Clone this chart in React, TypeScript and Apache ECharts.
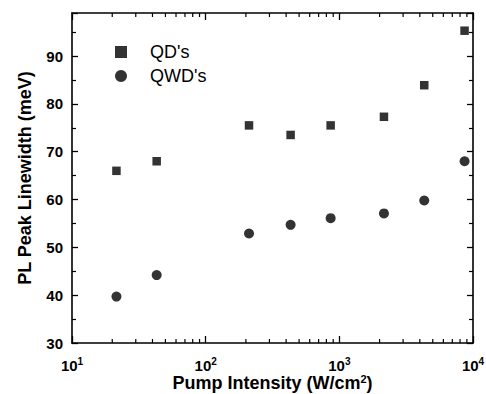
import React, { useEffect, useRef } from "react";
import * as echarts from "echarts";

const pumpIntensity = [21.5, 43, 211, 432, 861, 2157, 4318, 8650];
const qdLinewidth = [66.0, 68.0, 75.5, 73.5, 75.5, 77.3, 83.9, 95.3];
const qwdLinewidth = [39.7, 44.2, 52.9, 54.7, 56.1, 57.1, 59.8, 68.0];
const seriesNames = ["QD's", "QWD's"];
const xMin = 10;
const xMax = 10000;
const yMin = 30;
const yMax = 99;
const minorMultipliers = [2, 3, 4, 5, 6, 7, 8, 9];
const decades = [10, 100, 1000];

const FONT = "'Liberation Sans', Arial, Helvetica, sans-serif";

export default function App() {
  const ref = useRef<HTMLDivElement>(null);
  useEffect(() => {
    if (!ref.current) return;
    const chart = echarts.init(ref.current, null, { renderer: "svg" });
    const minorTickValues: number[] = [];
    decades.forEach((d) => minorMultipliers.forEach((m) => minorTickValues.push(m * d)));

    const axisLineStyle = { color: "#000", width: 1.6 };
    const option: any = {
      animation: false,
      backgroundColor: "#fff",
      textStyle: { fontFamily: FONT },
      grid: { left: 72, right: 13, top: 13, bottom: 51, containLabel: false, outerBoundsMode: "none" },
      legend: {
        data: [
          { name: seriesNames[0], icon: "rect" },
          { name: seriesNames[1], icon: "circle" },
        ],
        orient: "vertical",
        left: 110,
        top: 38,
        itemWidth: 12,
        itemHeight: 12,
        itemGap: 6,
        selectedMode: false,
        textStyle: { fontFamily: FONT, fontSize: 18, color: "#000", padding: [0, 0, 0, 18] },
      },
      xAxis: [
        {
          type: "log",
          logBase: 10,
          min: xMin,
          max: xMax,
          position: "bottom",
          name: "{a|Pump Intensity (W/cm}{s|2}{a|)}",
          nameLocation: "middle",
          nameGap: 30,
          nameMoveOverlap: false,
          nameTextStyle: {
            rich: {
              a: { fontFamily: FONT, fontSize: 18, fontWeight: "bold", color: "#000" },
              s: { fontFamily: FONT, fontSize: 11, fontWeight: "bold", color: "#000", padding: [0, 0, 9, 0] },
            },
          },
          axisLine: { show: true, onZero: false, lineStyle: axisLineStyle },
          axisTick: { show: true, inside: true, length: 7, lineStyle: { color: "#000", width: 1.3 } },
          splitLine: { show: false },
          axisLabel: {
            margin: 13,
            formatter: (v: number) => "{b|10}{s|" + Math.round(Math.log10(v)) + "}",
            rich: {
              b: { fontFamily: FONT, fontSize: 15, fontWeight: "bold", color: "#000" },
              s: { fontFamily: FONT, fontSize: 10, fontWeight: "bold", color: "#000", padding: [0, 0, 8, 0] },
            },
          },
        },
        {
          type: "log",
          logBase: 10,
          min: xMin,
          max: xMax,
          position: "top",
          axisLine: { show: true, onZero: false, lineStyle: axisLineStyle },
          axisTick: { show: true, inside: true, length: 7, lineStyle: { color: "#000", width: 1.3 } },
          axisLabel: { show: false },
          splitLine: { show: false },
        },
      ],
      yAxis: [
        {
          type: "value",
          min: yMin,
          max: yMax,
          interval: 10,
          position: "left",
          name: "PL Peak Linewidth (meV)",
          nameLocation: "middle",
          nameGap: 38,
          nameMoveOverlap: false,
          nameTextStyle: { fontFamily: FONT, fontSize: 18, fontWeight: "bold", color: "#000" },
          axisLine: { show: true, onZero: false, lineStyle: axisLineStyle },
          axisTick: { show: true, inside: true, length: 6, lineStyle: { color: "#000", width: 1.3 } },
          minorTick: { show: true, splitNumber: 2, length: 4, lineStyle: { color: "#000", width: 1.2 } },
          splitLine: { show: false },
          axisLabel: {
            margin: 9,
            showMaxLabel: false,
            fontFamily: FONT,
            fontSize: 15,
            fontWeight: "bold",
            color: "#000",
          },
        },
        {
          type: "value",
          min: yMin,
          max: yMax,
          interval: 10,
          position: "right",
          axisLine: { show: true, onZero: false, lineStyle: axisLineStyle },
          axisTick: { show: true, inside: true, length: 6, lineStyle: { color: "#000", width: 1.3 } },
          minorTick: { show: true, splitNumber: 2, length: 4, lineStyle: { color: "#000", width: 1.2 } },
          splitLine: { show: false },
          axisLabel: { show: false },
        },
      ],
      series: [
        {
          name: seriesNames[0],
          type: "scatter",
          symbol: "rect",
          symbolSize: 8.5,
          itemStyle: { color: "#000" },
          data: pumpIntensity.map((x, i) => [x, qdLinewidth[i]]),
        },
        {
          name: seriesNames[1],
          type: "scatter",
          symbol: "circle",
          symbolSize: 10,
          itemStyle: { color: "#000" },
          data: pumpIntensity.map((x, i) => [x, qwdLinewidth[i]]),
        },
        {
          name: "minorTicks",
          type: "custom",
          silent: true,
          data: minorTickValues.map((v) => [v]),
          renderItem: (params: any, api: any) => {
            const v = api.value(0);
            const b = api.coord([v, yMin]);
            const t = api.coord([v, yMax]);
            const len = 4;
            const st = { stroke: "#000", lineWidth: 1.2 };
            return {
              type: "group",
              children: [
                { type: "line", shape: { x1: b[0], y1: b[1], x2: b[0], y2: b[1] - len }, style: st },
                { type: "line", shape: { x1: t[0], y1: t[1], x2: t[0], y2: t[1] + len }, style: st },
              ],
            };
          },
        },
      ],
    };
    chart.setOption(option);
    return () => chart.dispose();
  }, []);
  return <div ref={ref} style={{ width: 486, height: 394, position: "absolute", left: 0, top: 0 }} />;
}
